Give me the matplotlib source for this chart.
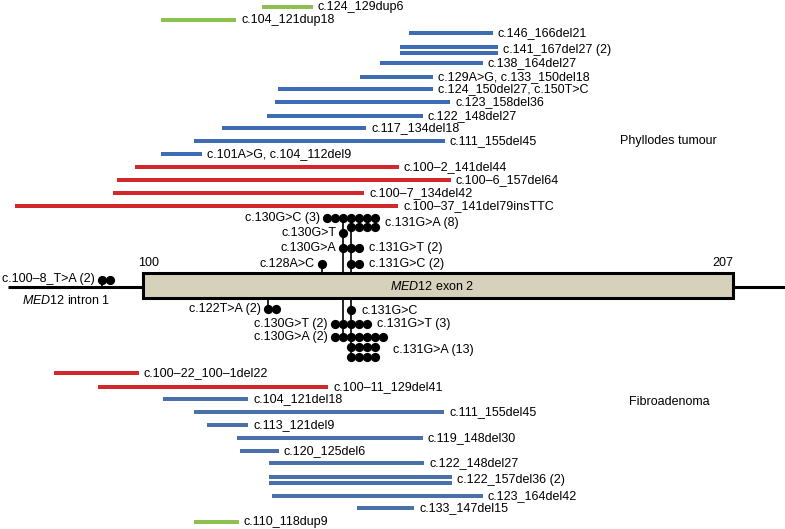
import matplotlib
matplotlib.use("Agg")
import matplotlib.pyplot as plt
from matplotlib.patches import Rectangle

plt.rcParams['font.family'] = ['Liberation Sans', 'DejaVu Sans']
plt.rcParams['mathtext.fontset'] = 'custom'
plt.rcParams['mathtext.rm'] = 'Liberation Sans'
plt.rcParams['mathtext.it'] = 'Liberation Sans:italic'

# schematic units: x / y in drawing units of the diagram (y grows downwards)
BLUE = '#3d6cb4'
BLUE_FA = '#4a70aa'
RED = '#d3282b'
GREEN = '#8cc152'
colours = {'dup': GREEN, 'del': BLUE, 'splice': RED}

# phyllodes tumour deletions / duplications
pt_labels = ['c.124_129dup6', 'c.104_121dup18', 'c.146_166del21', 'c.141_167del27 (2)',
             'c.138_164del27', 'c.129A>G, c.133_150del18', 'c.124_150del27, c.150T>C',
             'c.123_158del36', 'c.122_148del27', 'c.117_134del18', 'c.111_155del45',
             'c.101A>G, c.104_112del9', 'c.100\u20132_141del44', 'c.100\u20136_157del64',
             'c.100\u20137_134del42', 'c.100\u201337_141del79insTTC']
pt_kind = ['dup', 'dup', 'del', 'del', 'del', 'del', 'del', 'del', 'del', 'del', 'del',
           'del', 'splice', 'splice', 'splice', 'splice']
pt_start = [262, 161, 409, 400, 380, 360, 278, 275, 267, 222, 194, 161, 135, 117, 113, 15]
pt_end = [313, 236, 493, 498, 483, 433, 433, 450, 423, 366, 445, 202, 399, 451, 364, 398]
pt_count = [1, 1, 1, 2, 1, 1, 1, 1, 1, 1, 1, 1, 1, 1, 1, 1]
pt_row = [7.3, 20, 33.3, 50, 63.3, 76.7, 89.3, 102.3, 115.7, 128, 141.3, 154, 166.7, 180,
          192.7, 205.7]

# fibroadenoma deletions / duplications
fa_labels = ['c.100\u201322_100\u20131del22', 'c.100\u201311_129del41', 'c.104_121del18',
             'c.111_155del45', 'c.113_121del9', 'c.119_148del30', 'c.120_125del6',
             'c.122_148del27', 'c.122_157del36 (2)', 'c.123_164del42', 'c.133_147del15',
             'c.110_118dup9']
fa_kind = ['splice', 'splice', 'del', 'del', 'del', 'del', 'del', 'del', 'del', 'del', 'del',
           'dup']
fa_start = [54, 98, 163, 194, 207, 237, 240, 269, 269, 272, 357, 194]
fa_end = [139, 328, 248, 444, 248, 423, 279, 424, 452, 483, 414, 239]
fa_count = [1, 1, 1, 1, 1, 1, 1, 1, 2, 1, 1, 1]
fa_row = [373.3, 386.7, 399.3, 412.3, 425, 437.7, 450.7, 463.3, 480, 495.7, 508.3, 521.7]

# point mutations (lollipops)
mut_labels = ['c.100\u20138_T>A (2)', 'c.130G>C (3)', 'c.130G>T', 'c.130G>A', 'c.128A>C',
              'c.131G>A (8)', 'c.131G>T (2)', 'c.131G>C (2)',
              'c.122T>A (2)', 'c.131G>C', 'c.130G>T (2)', 'c.131G>T (3)', 'c.130G>A (2)',
              'c.131G>A (13)']
mut_stem = [101.7, 343, 343, 343, 322, 351, 351, 351, 268, 351, 343, 351, 343, 351]
mut_base = ['intron', 'top', 'top', 'top', 'top', 'top', 'top', 'top',
            'bottom', 'bottom', 'bottom', 'bottom', 'bottom', 'bottom']
mut_rows = [[280], [218], [233], [248], [264], [218, 227], [248], [264],
            [309], [310], [324], [324], [337], [337, 347, 357]]
mut_dots = [[2], [3], [1], [1], [1], [4, 4], [2], [2],
            [2], [1], [2], [3], [2], [5, 4, 4]]
mut_dir = [1, -1, -1, -1, -1, 1, 1, 1, 1, 1, -1, 1, -1, 1]
mut_label_side = ['left', 'left', 'left', 'left', 'left', 'right', 'right', 'right',
                  'left', 'right', 'left', 'right', 'left', 'right']
mut_label_y = [279, 218, 233, 248, 264, 223, 248, 264, 309, 311, 324, 324, 337, 350]

exon_x = (143, 733)
exon_y = (273, 298)
intron_y = 287
dot_step = 8

fig = plt.figure(figsize=(7.85, 5.29), dpi=100)
ax = fig.add_axes([0, 0, 1, 1])
ax.set_xlim(0, 785)
ax.set_ylim(529, 0)
ax.axis('off')
fs = 9


def draw_bars(labels, kinds, starts, ends, counts, rows, fa=False):
    for lab, kind, x0, x1, n, y in zip(labels, kinds, starts, ends, counts, rows):
        col = colours[kind]
        if fa and kind == 'del':
            col = BLUE_FA
        offs = [0] if n == 1 else [-3, 3]
        for o in offs:
            ax.barh(y + o, x1 - x0, left=x0, height=4.3, color=col, linewidth=0)
        ax.text(x1 + 5, y, lab, fontsize=fs, va='center', ha='left')


draw_bars(pt_labels, pt_kind, pt_start, pt_end, pt_count, pt_row)
draw_bars(fa_labels, fa_kind, fa_start, fa_end, fa_count, fa_row, fa=True)

# gene structure
ax.plot([8, exon_x[0]], [intron_y, intron_y], color='black', lw=2.2, solid_capstyle='butt')
ax.plot([exon_x[1], 785], [intron_y, intron_y], color='black', lw=2.2, solid_capstyle='butt')
ax.add_patch(Rectangle((exon_x[0], exon_y[0]), exon_x[1] - exon_x[0], exon_y[1] - exon_y[0],
                       facecolor='#d6d1bb', edgecolor='black', lw=2.2, zorder=3))
ax.text(138, 263, '100', fontsize=fs, ha='left', va='center')
ax.text(733, 263, '207', fontsize=fs, ha='right', va='center')
ax.text(390, 286, r'$\mathit{MED12}$ exon 2', fontsize=fs, ha='left', va='center', zorder=4)
ax.text(22, 300, r'$\mathit{MED12}$ intron 1', fontsize=fs, ha='left', va='center')

# lollipops
base_y = {'intron': intron_y, 'top': exon_y[0], 'bottom': exon_y[1]}
stem_ext = {}
for stem, base, rows in zip(mut_stem, mut_base, mut_rows):
    key = (stem, base)
    far = max(rows) if base == 'bottom' else min(rows)
    if key not in stem_ext:
        stem_ext[key] = far
    elif base == 'bottom':
        stem_ext[key] = max(stem_ext[key], far)
    else:
        stem_ext[key] = min(stem_ext[key], far)
for (stem, base), far in stem_ext.items():
    ax.plot([stem, stem], [base_y[base], far], color='black', lw=1.2, zorder=2)

for lab, stem, rows, dots, d, side, ly in zip(mut_labels, mut_stem, mut_rows, mut_dots,
                                               mut_dir, mut_label_side, mut_label_y):
    xs_all = []
    for y, n in zip(rows, dots):
        xs = [stem + d * k * dot_step for k in range(n)]
        xs_all += xs
        ax.scatter(xs, [y] * n, s=44, color='black', linewidths=0, zorder=5)
    if side == 'left':
        ax.text(min(xs_all) - 7, ly, lab, fontsize=fs, ha='right', va='center')
    else:
        ax.text(max(xs_all) + 10, ly, lab, fontsize=fs, ha='left', va='center')

ax.text(620, 141, 'Phyllodes tumour', fontsize=fs, ha='left', va='center')
ax.text(629, 402, 'Fibroadenoma', fontsize=fs, ha='left', va='center')

fig.savefig('out.png', dpi=100)
